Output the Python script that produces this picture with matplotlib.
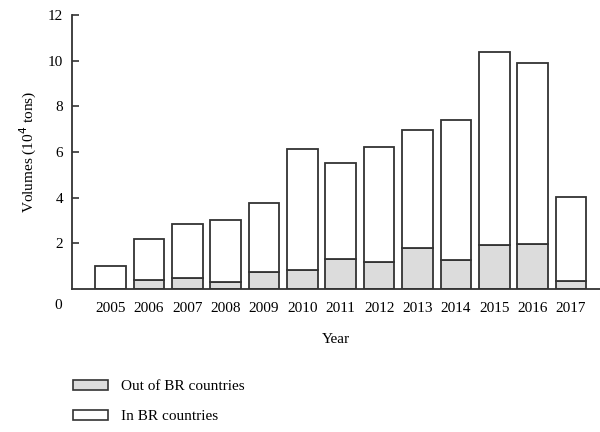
import numpy as np
import matplotlib.pyplot as plt
from matplotlib.patches import Patch

years = [2005, 2006, 2007, 2008, 2009, 2010, 2011, 2012, 2013, 2014, 2015, 2016, 2017]
# export volumes, 10^4 tons
out_br = [0.02, 0.39, 0.48, 0.31, 0.76, 0.83, 1.30, 1.17, 1.80, 1.28, 1.93, 1.98, 0.36]
total = [1.02, 2.19, 2.83, 3.04, 3.75, 6.13, 5.52, 6.20, 6.98, 7.42, 10.37, 9.88, 4.02]
in_br = [t - o for t, o in zip(total, out_br)]

plt.rcParams['font.family'] = ['Liberation Serif', 'DejaVu Serif']
plt.rcParams['font.size'] = 11

fig = plt.figure(figsize=(6, 4.32), dpi=100)
ax = fig.add_axes([0.12, 0.331, 0.88, 0.6343])

edge = '#333333'
x = np.array(years)
ax.bar(x, out_br, width=0.8, color='#dcdcdc', edgecolor=edge, linewidth=1.3)
ax.bar(x, in_br, width=0.8, bottom=out_br, color='white', edgecolor=edge, linewidth=1.3)

ax.set_xlim(2003.996, 2017.756)
ax.set_ylim(0, 12)
ax.set_yticks([2, 4, 6, 8, 10, 12])
ax.set_xticks(years)
ax.tick_params(axis='y', direction='in', length=5, width=1.2, pad=6.5, color=edge)
ax.tick_params(axis='x', length=0, pad=9)
ax.text(-0.0265, -0.062, '0', transform=ax.transAxes, ha='center', va='center')

for side in ['top', 'right']:
    ax.spines[side].set_visible(False)
for side in ['left', 'bottom']:
    ax.spines[side].set_linewidth(1.3)
    ax.spines[side].set_color(edge)

ax.set_ylabel('Volumes (10$^4$ tons)', labelpad=6)
ax.set_xlabel('Year', labelpad=13)

handles = [Patch(facecolor='#dcdcdc', edgecolor=edge, linewidth=1.2, label='Out of BR countries'),
           Patch(facecolor='white', edgecolor=edge, linewidth=1.2, label='In BR countries')]
fig.legend(handles=handles, loc='upper left', bbox_to_anchor=(0.098, 0.152), frameon=False,
           handlelength=2.3, handleheight=0.6, handletextpad=0.9, labelspacing=1.1)

fig.savefig('out.png', dpi=100)
